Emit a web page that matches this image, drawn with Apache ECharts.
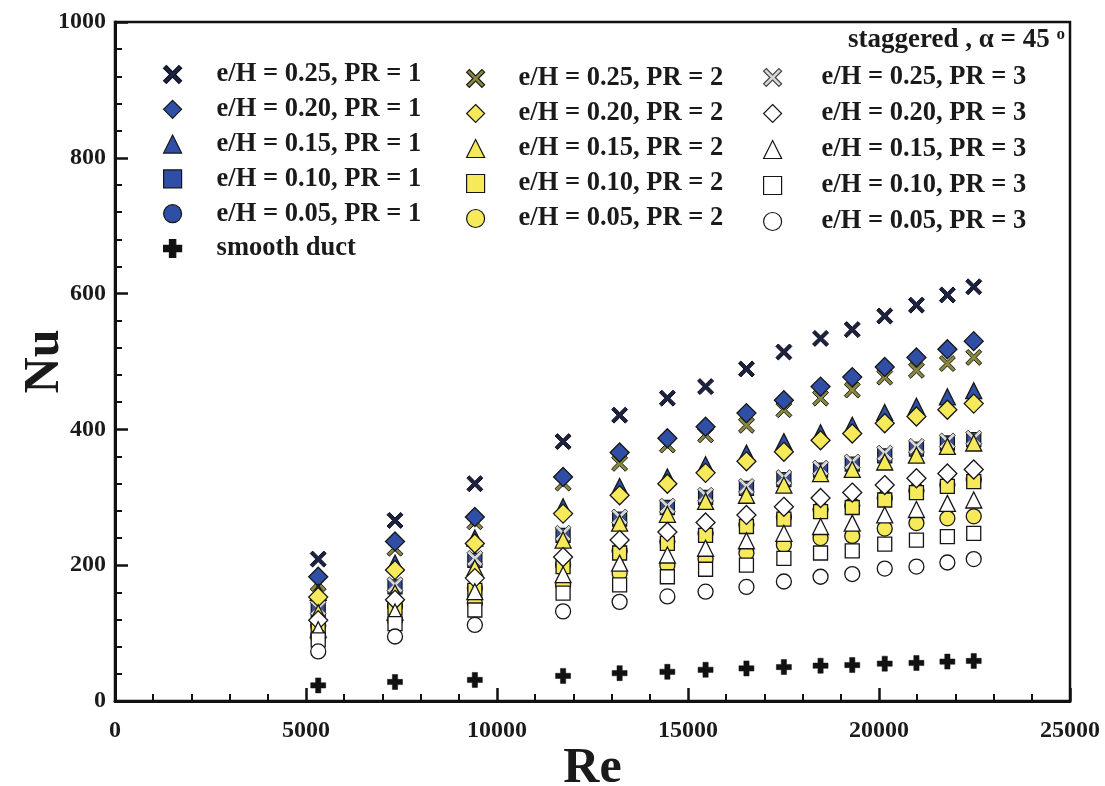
<!DOCTYPE html>
<html>
<head>
<meta charset="utf-8">
<script src="https://cdn.jsdelivr.net/npm/echarts@6/dist/echarts.min.js"></script>
<style>
  html, body { margin: 0; padding: 0; background: #fff; }
  #chart { width: 1105px; height: 786px; }
</style>
</head>
<body>
<div id="chart"></div>
<script>
// Reynolds numbers of the measurement stations
const reValues = [5320, 7330, 9420, 11730, 13210, 14460, 15460, 16530, 17510, 18470, 19300, 20150, 20980, 21790, 22480];

// Nusselt numbers, pitch ratio PR = 1
const nuE25PR1 = [209, 266, 320, 382, 421, 446, 463, 489, 514, 534, 547, 567, 583, 598, 610];
const nuE20PR1 = [183, 235, 271, 330, 366, 387, 404, 424, 443, 463, 477, 492, 506, 518, 530];
const nuE15PR1 = [160, 203, 240, 286, 316, 330, 348, 365, 382, 395, 406, 425, 434, 448, 457];
const nuE10PR1 = [134, 168, 207, 244, 268, 285, 300, 313, 326, 340, 349, 361, 371, 380, 385];
const nuE05PR1 = [111, 140, 166, 201, 221, 235, 247, 260, 271, 282, 288, 299, 310, 319, 326];

// Nusselt numbers, pitch ratio PR = 2
const nuE25PR2 = [173, 225, 264, 321, 350, 377, 392, 406, 429, 446, 458, 477, 487, 497, 506];
const nuE20PR2 = [153, 193, 232, 276, 303, 320, 336, 353, 367, 384, 394, 409, 419, 429, 438];
const nuE15PR2 = [130, 159, 196, 237, 262, 275, 294, 303, 318, 335, 341, 352, 362, 375, 380];
const nuE10PR2 = [108, 137, 163, 198, 218, 232, 244, 257, 268, 279, 285, 296, 307, 316, 323];
const nuE05PR2 = [95, 119, 144, 171, 188, 200, 209, 218, 230, 240, 243, 254, 262, 269, 272];

// Nusselt numbers, pitch ratio PR = 3
const nuE25PR3 = [137, 171, 210, 247, 271, 287, 303, 316, 329, 343, 352, 365, 375, 383, 387];
const nuE20PR3 = [119, 149, 181, 212, 237, 249, 263, 274, 286, 299, 307, 318, 328, 335, 341];
const nuE15PR3 = [105, 131, 161, 186, 203, 215, 225, 236, 247, 257, 262, 274, 282, 291, 296];
const nuE10PR3 = [90, 114, 134, 159, 171, 183, 194, 200, 210, 218, 221, 231, 237, 242, 247];
const nuE05PR3 = [73, 95, 112, 132, 146, 154, 161, 168, 176, 183, 187, 195, 198, 204, 209];

// Smooth duct reference
const nuSmooth = [23, 28, 31, 37, 41, 43, 46, 48, 50, 52, 53, 55, 56, 58, 59];

// Axis ticks
const xTicks = [0, 5000, 10000, 15000, 20000, 25000];
const yTicks = [0, 200, 400, 600, 800, 1000];

const FONT = "'Liberation Serif', 'Times New Roman', serif";
const CROSS = 'path://M3 0L10 7L17 0L20 3L13 10L20 17L17 20L10 13L3 20L0 17L7 10L0 3Z';
const PLUS = 'path://M6.5 0L13.5 0L13.5 6.5L20 6.5L20 13.5L13.5 13.5L13.5 20L6.5 20L6.5 13.5L0 13.5L0 6.5L6.5 6.5Z';

const BLUE = '#2f4fa6';
const YELLOW = '#f6ea5a';
const EDGE = '#161616';

function pts(values) {
  return reValues.map((re, i) => [re, values[i]]);
}

function scatter(name, values, symbol, size, fill, border, bw) {
  return {
    name: name,
    type: 'scatter',
    data: pts(values),
    symbol: symbol,
    symbolSize: size,
    itemStyle: { color: fill, borderColor: border, borderWidth: bw, opacity: 1 },
    emphasis: { disabled: true }
  };
}

const N = {
  e25p1: 'e/H = 0.25, PR = 1', e20p1: 'e/H = 0.20, PR = 1', e15p1: 'e/H = 0.15, PR = 1',
  e10p1: 'e/H = 0.10, PR = 1', e05p1: 'e/H = 0.05, PR = 1', smooth: 'smooth duct',
  e25p2: 'e/H = 0.25, PR = 2', e20p2: 'e/H = 0.20, PR = 2', e15p2: 'e/H = 0.15, PR = 2',
  e10p2: 'e/H = 0.10, PR = 2', e05p2: 'e/H = 0.05, PR = 2',
  e25p3: 'e/H = 0.25, PR = 3', e20p3: 'e/H = 0.20, PR = 3', e15p3: 'e/H = 0.15, PR = 3',
  e10p3: 'e/H = 0.10, PR = 3', e05p3: 'e/H = 0.05, PR = 3'
};

// drawing order (later series sit on top)
const series = [
  scatter(N.e25p1, nuE25PR1, CROSS, 16, '#1d2240', '#0d0f1e', 1),
  scatter(N.e25p2, nuE25PR2, CROSS, 16, '#8a873e', '#1c1c1c', 1),
  scatter(N.e20p1, nuE20PR1, 'diamond', 19, BLUE, EDGE, 1.3),
  scatter(N.e15p1, nuE15PR1, 'triangle', 16, BLUE, EDGE, 1.3),
  scatter(N.e10p1, nuE10PR1, 'rect', 14, BLUE, EDGE, 1.3),
  scatter(N.e05p1, nuE05PR1, 'circle', 15, BLUE, EDGE, 1.3),
  scatter(N.e25p3, nuE25PR3, CROSS, 16, '#d8d8d8', '#444', 1),
  scatter(N.e20p2, nuE20PR2, 'diamond', 19, YELLOW, EDGE, 1.3),
  scatter(N.e15p2, nuE15PR2, 'triangle', 16, YELLOW, EDGE, 1.3),
  scatter(N.e10p2, nuE10PR2, 'rect', 14, YELLOW, EDGE, 1.3),
  scatter(N.e05p2, nuE05PR2, 'circle', 15, YELLOW, EDGE, 1.3),
  scatter(N.e20p3, nuE20PR3, 'diamond', 19, '#ffffff', EDGE, 1.3),
  scatter(N.e15p3, nuE15PR3, 'triangle', 16, '#ffffff', EDGE, 1.3),
  scatter(N.e10p3, nuE10PR3, 'rect', 14, '#ffffff', EDGE, 1.3),
  scatter(N.e05p3, nuE05PR3, 'circle', 15, '#ffffff', EDGE, 1.3),
  scatter(N.smooth, nuSmooth, PLUS, 15, '#111111', '#111111', 0.5)
];

function legendColumn(names, left, top, gap, textPad) {
  return {
    data: names,
    orient: 'vertical',
    left: left,
    top: top,
    padding: 0,
    itemGap: gap,
    itemWidth: 18,
    itemHeight: 18,
    selectedMode: false,
    itemStyle: { borderWidth: 1.2 },
    textStyle: {
      fontFamily: FONT, fontWeight: 'bold', fontSize: 26.5, color: '#1a1a1a',
      lineHeight: 26, padding: [0, 0, 0, textPad]
    }
  };
}

const labelFmt = (v) => String(v);

const chart = echarts.init(document.getElementById('chart'), null, { renderer: 'canvas' });
chart.setOption({
  animation: false,
  backgroundColor: '#ffffff',
  title: {
    text: '{a|staggered , α = 45 }{s|o}',
    right: 40,
    top: 26,
    padding: 0,
    textStyle: {
      rich: {
        a: { fontFamily: FONT, fontWeight: 'bold', fontSize: 27, color: '#1a1a1a', lineHeight: 28 },
        s: { fontFamily: FONT, fontWeight: 'bold', fontSize: 17, color: '#1a1a1a', verticalAlign: 'top', padding: [0, 0, 12, 0] }
      }
    }
  },
  legend: [
    legendColumn([N.e25p1, N.e20p1, N.e15p1, N.e10p1, N.e05p1, N.smooth], 163, 61, 7.8, 30),
    legendColumn([N.e25p2, N.e20p2, N.e15p2, N.e10p2, N.e05p2], 466, 65, 8, 29),
    legendColumn([N.e25p3, N.e20p3, N.e15p3, N.e10p3, N.e05p3], 763, 64, 9, 35)
  ],
  grid: {
    left: 115, right: 35, top: 22, bottom: 85,
    containLabel: false, outerBoundsMode: 'none',
    show: true, borderColor: '#111', borderWidth: 2.5, backgroundColor: 'transparent'
  },
  xAxis: {
    type: 'value',
    min: xTicks[0], max: xTicks[xTicks.length - 1], interval: xTicks[1] - xTicks[0],
    name: 'Re', nameLocation: 'middle', nameGap: 43, nameMoveOverlap: false,
    nameTextStyle: { fontFamily: FONT, fontWeight: 'bold', fontSize: 50, color: '#1a1a1a' },
    axisLine: { lineStyle: { color: '#111', width: 3 } },
    axisTick: { inside: true, length: 13, lineStyle: { color: '#111', width: 2.5 } },
    minorTick: { show: true, splitNumber: 5, length: 7, lineStyle: { color: '#111', width: 2 } },
    splitLine: { show: false },
    axisLabel: { margin: 18, formatter: labelFmt, fontFamily: FONT, fontWeight: 'bold', fontSize: 24, color: '#1a1a1a' }
  },
  yAxis: {
    type: 'value',
    min: yTicks[0], max: yTicks[yTicks.length - 1], interval: yTicks[1] - yTicks[0],
    name: 'Nu', nameLocation: 'middle', nameGap: 45, nameRotate: 90, nameMoveOverlap: false,
    nameTextStyle: { fontFamily: FONT, fontWeight: 'bold', fontSize: 50, color: '#1a1a1a' },
    axisLine: { lineStyle: { color: '#111', width: 3 } },
    axisTick: { inside: true, length: 13, lineStyle: { color: '#111', width: 2.5 } },
    minorTick: { show: true, splitNumber: 5, length: 7, lineStyle: { color: '#111', width: 2 } },
    splitLine: { show: false },
    axisLabel: { margin: 9, formatter: labelFmt, fontFamily: FONT, fontWeight: 'bold', fontSize: 24, color: '#1a1a1a' }
  },
  series: series
});
</script>
</body>
</html>
